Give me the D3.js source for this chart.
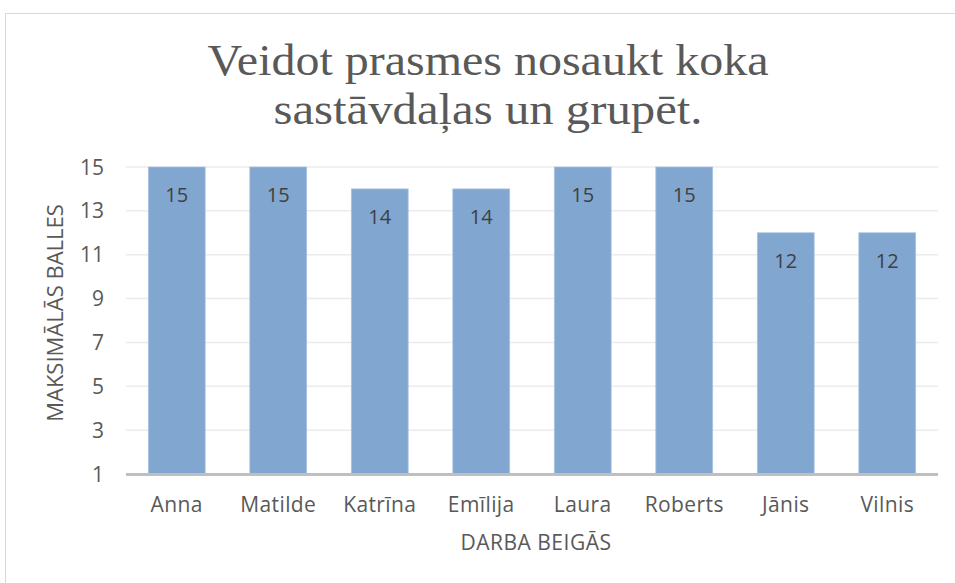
<!DOCTYPE html>
<html><head><meta charset="utf-8">
<script src="https://cdn.jsdelivr.net/npm/d3@7"></script>
<style>body{margin:0;background:#fff}svg{display:block}</style>
</head><body>
<script>
const categories = ["Anna","Matilde","Katrīna","Emīlija","Laura","Roberts","Jānis","Vilnis"];
const values = [15,15,14,14,15,15,12,12];
const yTicks = [1,3,5,7,9,11,13,15];
const titleLines = ["Veidot prasmes nosaukt koka","sastāvdaļas un grupēt."];
const yTitle = "MAKSIMĀLĀS BALLES";
const xTitle = "DARBA BEIGĀS";

(function(){
const W=955,H=583;
const svg=d3.select("body").append("svg").attr("width",W).attr("height",H);
svg.append("rect").attr("x",5.5).attr("y",13.5).attr("width",960).attr("height",600)
  .attr("fill","#fff").attr("stroke","#d9d9d9").attr("stroke-width",1);

const pL=126,pR=938,pT=167,pB=474;
const x=d3.scaleBand().domain(categories).range([pL,pR]).paddingInner(0.44).paddingOuter(0.22);
const y=d3.scaleLinear().domain([1,15]).range([pB,pT]);
const font="Open Sans, sans-serif";

svg.append("g").selectAll("line").data(yTicks).join("line")
  .attr("x1",pL).attr("x2",pR).attr("y1",d=>y(d)).attr("y2",d=>y(d))
  .attr("stroke","#ececec").attr("stroke-width",1.5);

svg.append("g").selectAll("text").data(yTicks).join("text")
  .attr("x",104).attr("y",d=>y(d)).attr("dy","0.36em").attr("text-anchor","end")
  .attr("font-family",font).attr("font-size",21).attr("fill","#595959").text(d=>d);

svg.append("g").selectAll("rect").data(values).join("rect")
  .attr("x",(d,i)=>x(categories[i])).attr("width",x.bandwidth())
  .attr("y",d=>y(d)).attr("height",d=>pB-y(d))
  .attr("fill","#81a6cf").attr("stroke","#a9c3e0").attr("stroke-width",0.8);

svg.append("line").attr("x1",pL).attr("x2",pR).attr("y1",pB+0.5).attr("y2",pB+0.5)
  .attr("stroke","#bfbfbf").attr("stroke-width",3);

svg.append("g").selectAll("text").data(values).join("text")
  .attr("x",(d,i)=>x(categories[i])+x.bandwidth()/2).attr("y",d=>y(d)+35)
  .attr("text-anchor","middle").attr("font-family",font).attr("font-size",20)
  .attr("fill","#404040").text(d=>d);

svg.append("g").selectAll("text").data(categories).join("text")
  .attr("x",d=>x(d)+x.bandwidth()/2).attr("y",512).attr("text-anchor","middle")
  .attr("font-family",font).attr("font-size",21).attr("letter-spacing",0.4)
  .attr("fill","#595959").text(d=>d);

svg.append("text").attr("x",536).attr("y",550).attr("text-anchor","middle")
  .attr("font-family",font).attr("font-size",21).attr("letter-spacing",0.5)
  .attr("fill","#595959").text(xTitle);

svg.append("text").attr("transform","translate(63,313) rotate(-90)").attr("text-anchor","middle")
  .attr("font-family",font).attr("font-size",22).attr("fill","#595959").text(yTitle);

const tLen=[561,429];
svg.append("g").selectAll("text").data(titleLines).join("text")
  .attr("x",488).attr("y",(d,i)=>75+i*49).attr("text-anchor","middle")
  .attr("font-family","Liberation Serif, serif").attr("font-size",45)
  .attr("textLength",(d,i)=>tLen[i]).attr("lengthAdjust","spacingAndGlyphs")
  .attr("fill","#595959").text(d=>d);
})();
</script>
</body></html>
